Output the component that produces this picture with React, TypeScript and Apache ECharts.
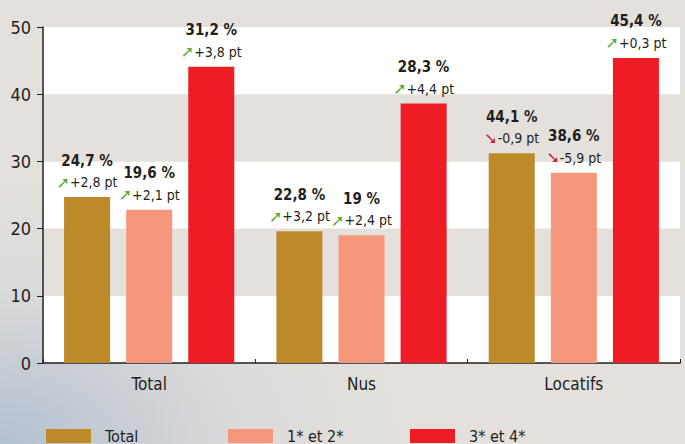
import React, { useEffect, useRef } from "react";
import * as echarts from "echarts";

const categories = ["Total", "Nus", "Locatifs"];
const seriesNames = ["Total", "1* et 2*", "3* et 4*"];
const seriesColors = ["#bc8a28", "#f5977a", "#ee1c25"];

// bar heights as drawn
const totalValues = [24.7, 19.6, 31.2];
const oneTwoValues = [22.8, 19, 28.3];
const threeFourValues = [44.1, 38.6, 45.4];

// texts printed above the bars
const totalPct = ["24,7 %", "22,8 %", "44,1 %"];
const oneTwoPct = ["19,6 %", "19 %", "38,6 %"];
const threeFourPct = ["31,2 %", "28,3 %", "45,4 %"];

const totalDelta = ["+2,8", "+3,2", "-0,9"];
const oneTwoDelta = ["+2,1", "+2,4", "-5,9"];
const threeFourDelta = ["+3,8", "+4,4", "+0,3"];

const yTicks = [0, 10, 20, 30, 40, 50];

const FONT = "'DejaVu Sans Condensed', 'Liberation Sans Narrow', sans-serif";
const INK = "#231f20";

export default function App() {
  const ref = useRef<HTMLDivElement>(null);
  useEffect(() => {
    if (!ref.current) return;
    const chart = echarts.init(ref.current, undefined, { renderer: "svg" });
    const values = [totalValues, oneTwoValues, threeFourValues];
    const pcts = [totalPct, oneTwoPct, threeFourPct];
    const deltas = [totalDelta, oneTwoDelta, threeFourDelta];

    const series = values.map((vals, si) => ({
      name: seriesNames[si],
      type: "bar",
      barWidth: 46,
      barGap: "35%",
      barCategoryGap: "20%",
      itemStyle: { color: seriesColors[si] },
      data: vals,
      label: {
        show: true,
        position: "top",
        distance: 5,
        formatter: (p: any) => {
          const d = deltas[si][p.dataIndex];
          const arrow = d.startsWith("-") ? "{dn|➘}" : "{up|➚}";
          return `{pct|${pcts[si][p.dataIndex]}}\n${arrow}{pt|${d} pt}`;
        },
        rich: {
          pct: { fontFamily: FONT, fontSize: 15, fontWeight: "bold", color: INK, lineHeight: 23 },
          pt: { fontFamily: FONT, fontSize: 14, color: INK, lineHeight: 20 },
          up: { fontFamily: "DejaVu Sans", fontSize: 16, color: "#5aaa3c", lineHeight: 20, fontWeight: "bold" },
          dn: { fontFamily: "DejaVu Sans", fontSize: 16, color: "#c1272d", lineHeight: 20, fontWeight: "bold" },
        },
      },
    }));

    const legendLefts = [41, 223, 405];
    const legends = seriesNames.map((n, i) => ({
      data: [n],
      left: legendLefts[i],
      top: 423,
      itemWidth: 45,
      itemHeight: 14,
      icon: "rect",
      selectedMode: false,
      textStyle: { fontFamily: FONT, fontSize: 16, color: INK, padding: [0, 0, 0, 9] },
    }));

    chart.setOption({
      animation: false,
      backgroundColor: new echarts.graphic.RadialGradient(0, 1, 0.6, [
        { offset: 0, color: "#b3c0d0" },
        { offset: 0.6, color: "#dcdbda" },
        { offset: 1, color: "#e4e1dc" },
      ]),
      grid: { left: 43, right: 5, top: 27, bottom: 81 },
      legend: legends,
      xAxis: {
        type: "category",
        data: categories,
        axisLine: { show: true, lineStyle: { color: INK, width: 1.5 } },
        axisTick: { show: true, inside: true, length: 4, lineStyle: { color: INK } },
        axisLabel: { fontFamily: FONT, fontSize: 17, color: INK, margin: 12 },
      },
      yAxis: {
        type: "value",
        min: 0,
        max: 50,
        interval: 10,
        axisLine: { show: true, lineStyle: { color: INK, width: 1.5 } },
        axisTick: { show: true, length: 6, lineStyle: { color: INK } },
        axisLabel: {
          fontFamily: FONT,
          fontSize: 18,
          color: INK,
          margin: 12,
          formatter: (v: number) => (yTicks.includes(v) ? String(v) : ""),
        },
        splitLine: { show: false },
        splitArea: { show: true, areaStyle: { color: ["#ffffff", "#e4e1dc"] } },
      },
      series,
    });
    return () => chart.dispose();
  }, []);
  return (
    <div
      ref={ref}
      style={{ position: "absolute", left: 0, top: 0, width: 685, height: 444 }}
    />
  );
}
